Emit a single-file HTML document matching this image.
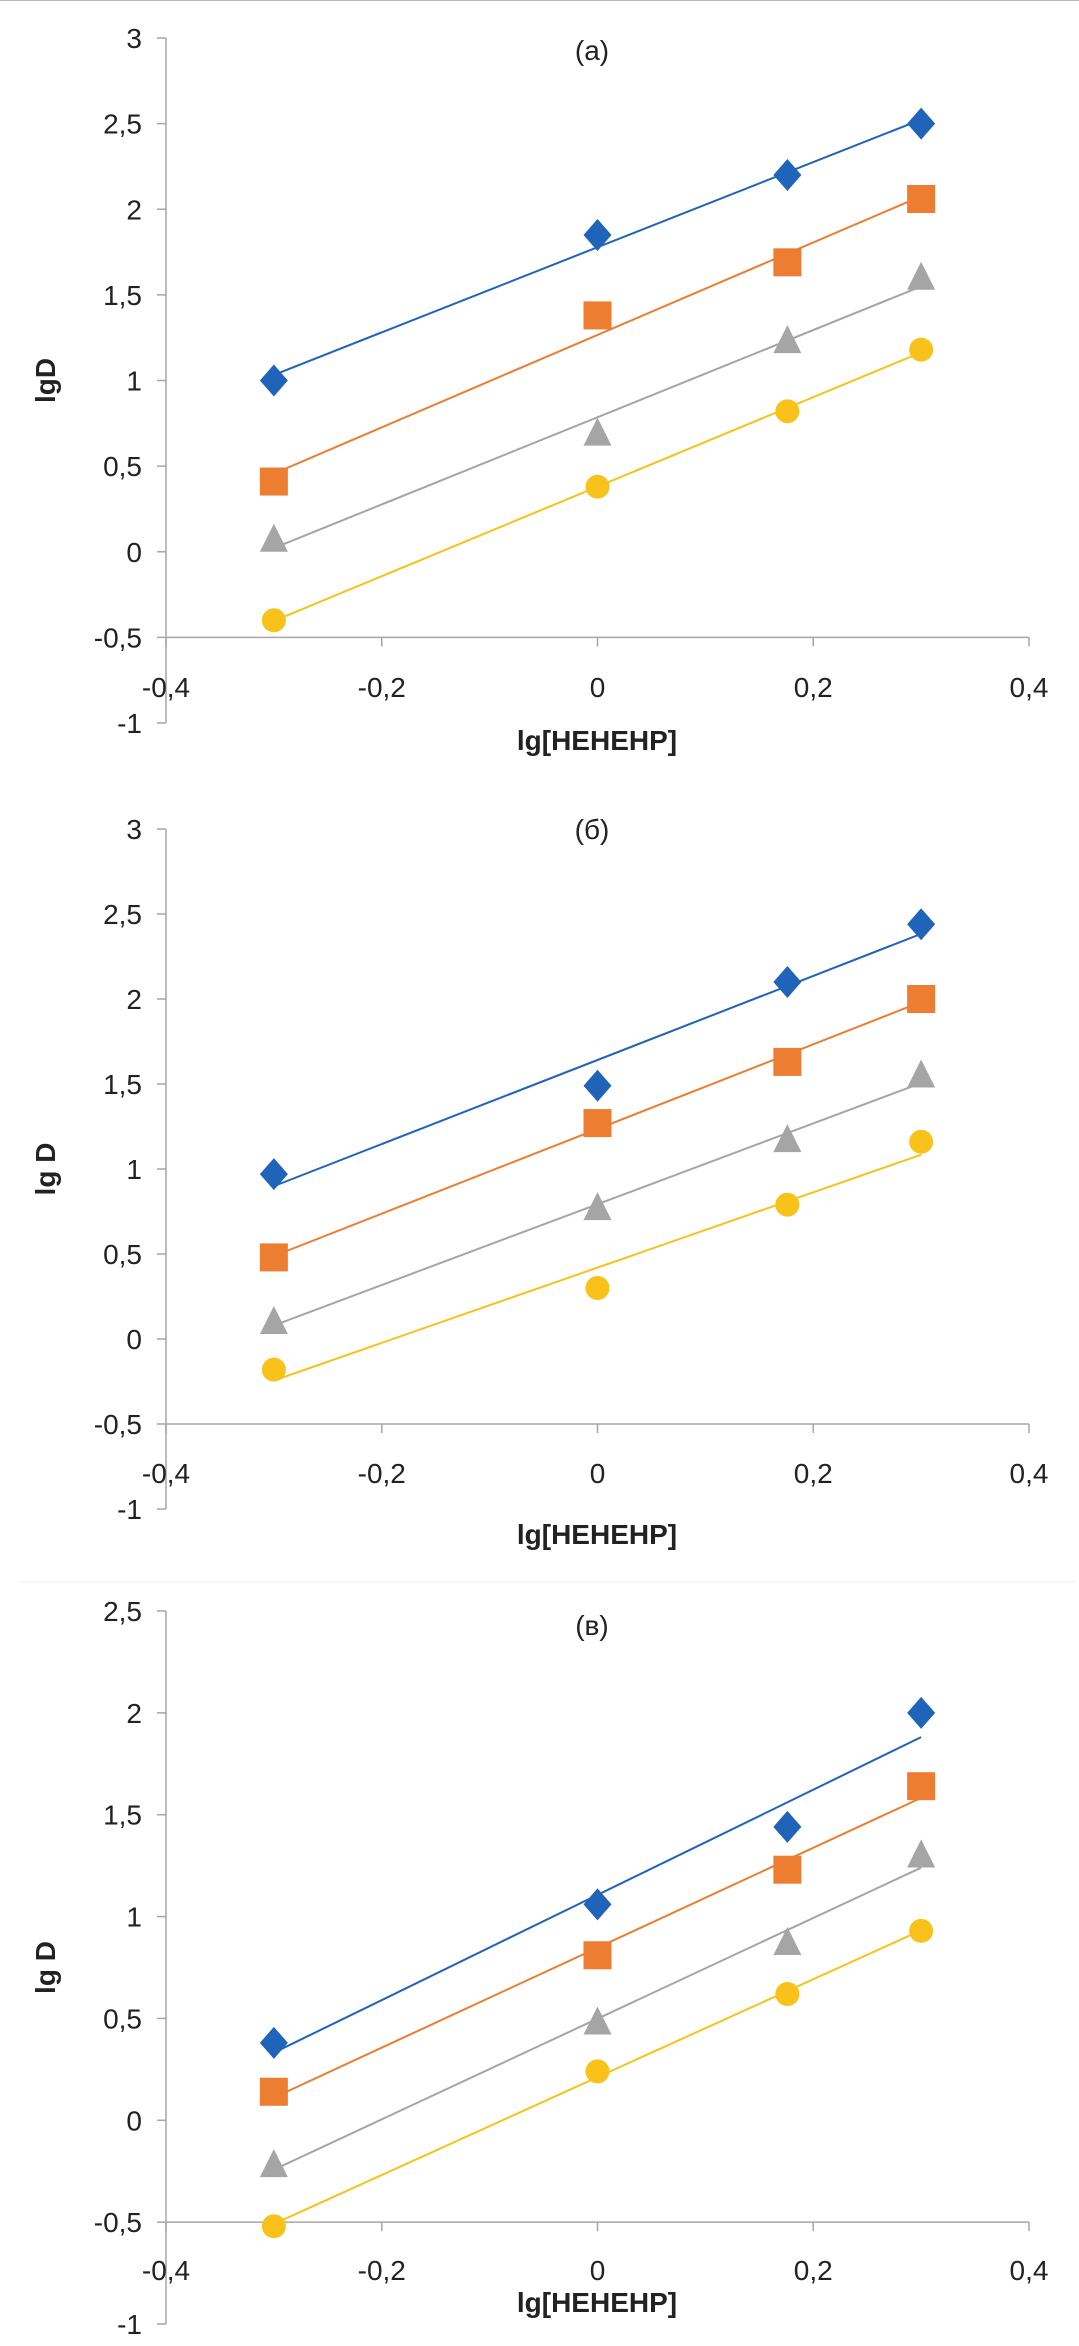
<!DOCTYPE html>
<html><head><meta charset="utf-8"><style>
html,body{margin:0;padding:0;background:#fff;}
svg{display:block;}
text{font-family:"Liberation Sans Narrow","Liberation Sans",sans-serif;fill:#222;}
</style></head><body>
<svg id="svg" width="1079" height="2346" viewBox="0 0 1079 2346" xmlns="http://www.w3.org/2000/svg">
<line x1="0" y1="0.5" x2="1079" y2="0.5" stroke="#bbb" stroke-width="1"/>
<line x1="20" y1="1582" x2="1075" y2="1582" stroke="#eee" stroke-width="1"/>
</svg>
<script>
const xValues = [-0.3, 0, 0.176, 0.3];
const xTicks = [-0.4, -0.2, 0, 0.2, 0.4];
const seriesNames = ['blue', 'orange', 'gray', 'yellow'];
const panelTitles = ['(a)', '(б)', '(в)'];
const yTitles = ['lgD', 'lg D', 'lg D'];
const yTicksA = [3, 2.5, 2, 1.5, 1, 0.5, 0, -0.5, -1];
const yTicksB = [3, 2.5, 2, 1.5, 1, 0.5, 0, -0.5, -1];
const yTicksC = [2.5, 2, 1.5, 1, 0.5, 0, -0.5, -1];
const blueA = [1.0, 1.85, 2.2, 2.5];
const orangeA = [0.41, 1.38, 1.69, 2.06];
const grayA = [0.07, 0.69, 1.23, 1.6];
const yellowA = [-0.4, 0.38, 0.82, 1.18];
const blueB = [0.97, 1.49, 2.1, 2.44];
const orangeB = [0.48, 1.27, 1.63, 2.0];
const grayB = [0.1, 0.77, 1.17, 1.55];
const yellowB = [-0.18, 0.3, 0.79, 1.16];
const blueC = [0.38, 1.06, 1.44, 2.0];
const orangeC = [0.14, 0.81, 1.23, 1.64];
const grayC = [-0.22, 0.48, 0.87, 1.3];
const yellowC = [-0.52, 0.24, 0.62, 0.93];

const NS = 'http://www.w3.org/2000/svg';
const svg = document.getElementById('svg');
const colors = {blue:'#1f64b8', orange:'#ed7d31', gray:'#a5a5a5', yellow:'#f8c21a'};
function mk(tag, attrs, parent){const e=document.createElementNS(NS,tag);for(const k in attrs)e.setAttribute(k,attrs[k]);(parent||svg).appendChild(e);return e;}
function fmt(v){return String(v).replace('.',',');}
function fit(xs, ys){const n=xs.length;let sx=0,sy=0,sxx=0,sxy=0;for(let i=0;i<n;i++){sx+=xs[i];sy+=ys[i];sxx+=xs[i]*xs[i];sxy+=xs[i]*ys[i];}const b=(n*sxy-sx*sy)/(n*sxx-sx*sx);return {b:b,a:(sy-b*sx)/n};}

const panels = [
 {title:panelTitles[0], ytitle:yTitles[0], ticks:yTicksA, yTop:38, yBot:723, vTop:3, vBot:-1, titleY:50, xlabY:697, xtitleY:750, data:[blueA,orangeA,grayA,yellowA]},
 {title:panelTitles[1], ytitle:yTitles[1], ticks:yTicksB, yTop:829, yBot:1509, vTop:3, vBot:-1, titleY:829, xlabY:1483, xtitleY:1544, data:[blueB,orangeB,grayB,yellowB]},
 {title:panelTitles[2], ytitle:yTitles[2], ticks:yTicksC, yTop:1611, yBot:2324, vTop:2.5, vBot:-1, titleY:1625, xlabY:2280, xtitleY:2312, data:[blueC,orangeC,grayC,yellowC]}
];
const xL = 166, xR = 1029;
function sx(v){return xL + (v - (-0.4)) / 0.8 * (xR - xL);}

panels.forEach((p, pi) => {
  const g = mk('g', {});
  
  
  const sy = v => p.yTop + (p.vTop - v) / (p.vTop - p.vBot) * (p.yBot - p.yTop);
  const y0 = sy(-0.5);
  // y axis
  const ya = mk('line', {x1:xL, y1:p.yTop, x2:xL, y2:p.yBot, stroke:'#a6a6a6', 'stroke-width':1.5}, g);
  
  
  p.ticks.forEach(t => {
    const y = sy(t);
    mk('line', {x1:xL-9, y1:y, x2:xL, y2:y, stroke:'#a6a6a6', 'stroke-width':1.5}, g);
    const tl = mk('text', {x:xL-24, y:y+10, 'font-size':28, 'text-anchor':'end'}, g);
    tl.textContent = fmt(t);
    
    
  });
  // x axis
  const xa = mk('line', {x1:xL, y1:y0, x2:xR, y2:y0, stroke:'#a6a6a6', 'stroke-width':1.5}, g);
  
  
  xTicks.forEach(t => {
    const x = sx(t);
    mk('line', {x1:x, y1:y0, x2:x, y2:y0+9, stroke:'#a6a6a6', 'stroke-width':1.5}, g);
    const tl = mk('text', {x:x, y:p.xlabY, 'font-size':28, 'text-anchor':'middle'}, g);
    tl.textContent = fmt(t);
    
    
  });
  const tt = mk('text', {x:592, y:p.titleY + 10, 'font-size':28, 'text-anchor':'middle'}, g);
  tt.textContent = p.title;
  
  
  const xt = mk('text', {x:597, y:p.xtitleY, 'font-size':28, 'font-weight':'bold', 'text-anchor':'middle'}, g);
  xt.textContent = 'lg[HEHEHP]';
  
  
  const ym = (p.yTop + p.yBot) / 2;
  const yt = mk('text', {x:0, y:0, 'font-size':28, 'font-weight':'bold', 'text-anchor':'middle', transform:'translate(55,' + (ym) + ') rotate(-90)'}, g);
  yt.textContent = p.ytitle;
  
  

  p.data.forEach((ys, si) => {
    const name = seriesNames[si], c = colors[name];
    const f = fit(xValues, ys);
    const x1 = xValues[0], x2 = xValues[xValues.length-1];
    const tl = mk('line', {x1:sx(x1), y1:sy(f.a+f.b*x1), x2:sx(x2), y2:sy(f.a+f.b*x2), stroke:c, 'stroke-width':2}, g);
    
    
    ys.forEach((v, i) => {
      const x = sx(xValues[i]), y = sy(v);
      let m;
      if (si === 0) m = mk('polygon', {points:(x)+','+(y-16)+' '+(x+14)+','+y+' '+x+','+(y+16)+' '+(x-14)+','+y, fill:c}, g);
      else if (si === 1) m = mk('rect', {x:x-14, y:y-14, width:28, height:28, fill:c}, g);
      else if (si === 2) m = mk('polygon', {points:x+','+(y-16)+' '+(x+14)+','+(y+12)+' '+(x-14)+','+(y+12), fill:c}, g);
      else m = mk('ellipse', {cx:x, cy:y, rx:12, ry:12, fill:c}, g);
      
      
    });
  });
});
</script>
</body></html>
